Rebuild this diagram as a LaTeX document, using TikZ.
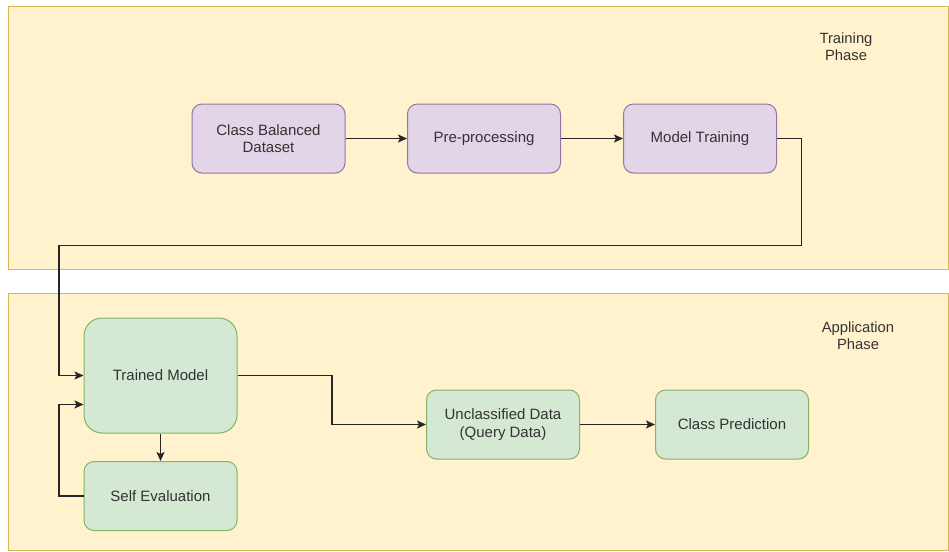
\documentclass[tikz,border=0pt]{standalone}
\usepackage{fontspec}
\setmainfont{Liberation Sans}
\usetikzlibrary{arrows.meta}
\definecolor{panelfill}{HTML}{FFF2CC}
\definecolor{paneldraw}{HTML}{D6B656}
\definecolor{purfill}{HTML}{E1D5E7}
\definecolor{purdraw}{HTML}{9673A6}
\definecolor{grnfill}{HTML}{D5E8D4}
\definecolor{grndraw}{HTML}{82B366}
\definecolor{txt}{HTML}{333333}
\tikzset{
  panel/.style={fill=panelfill,draw=paneldraw,line width=1pt},
  box/.style={rectangle,rounded corners=10pt,line width=1pt,minimum width=153pt,minimum height=69pt,align=center,text=txt,font=\fontsize{15}{17.5}\selectfont,inner sep=2pt},
  purbox/.style={box,fill=purfill,draw=purdraw},
  grnbox/.style={box,fill=grnfill,draw=grndraw},
  lbl/.style={align=center,text=txt,font=\fontsize{14.8}{17}\selectfont},
  conn/.style={draw=black!85,line width=1.2pt,-{Stealth[length=9pt,width=8pt,inset=2pt]}},
  line/.style={draw=black!85,line width=1.2pt}
}
\begin{document}
\begin{tikzpicture}[x=1pt,y=-1pt]
\useasboundingbox (0,0) rectangle (949,551);
\fill[white] (0,0) rectangle (949,551);
\draw[panel] (8,7) rectangle (948.5,269);
\draw[panel] (8,293) rectangle (948.5,550.5);
\node[lbl] (tp) at (846,46.5) {Training\\Phase};
\node[lbl] (ap) at (858,335.5) {Application\\Phase};
\node[purbox] (cbd) at (268.5,138.5) {Class Balanced\\Dataset};
\node[purbox] (pre) at (484,138.5) {Pre-processing};
\node[purbox] (mt) at (700,138.5) {Model Training};
\node[grnbox,minimum height=115pt,rounded corners=18pt] (tm) at (160.5,375.5) {Trained Model};
\node[grnbox] (se) at (160.5,496) {Self Evaluation};
\node[grnbox] (ud) at (503,424.5) {Unclassified Data\\(Query Data)};
\node[grnbox] (cp) at (732,424.5) {Class Prediction};
\coordinate (c1) at (801.5,138.5);
\coordinate (c2) at (801.5,245.5);
\coordinate (c3) at (59,245.5);
\coordinate (c4) at (59,375.5);
\coordinate (s1) at (59,496);
\coordinate (s2) at (59,404.5);
\coordinate (s3) at (tm.west |- s2);
\coordinate (u1) at (332,375.5);
\coordinate (u2) at (332,424.5);
\draw[conn] (cbd) -- (pre);
\draw[conn] (pre) -- (mt);
\draw[conn] (mt.east) -- (c1) -- (c2) -- (c3) -- (c4) -- (tm.west);
\draw[conn] (tm) -- (se);
\draw[conn] (se.west) -- (s1) -- (s2) -- (s3);
\draw[conn] (tm.east) -- (u1) -- (u2) -- (ud.west);
\draw[conn] (ud) -- (cp);
\end{tikzpicture}
\end{document}
